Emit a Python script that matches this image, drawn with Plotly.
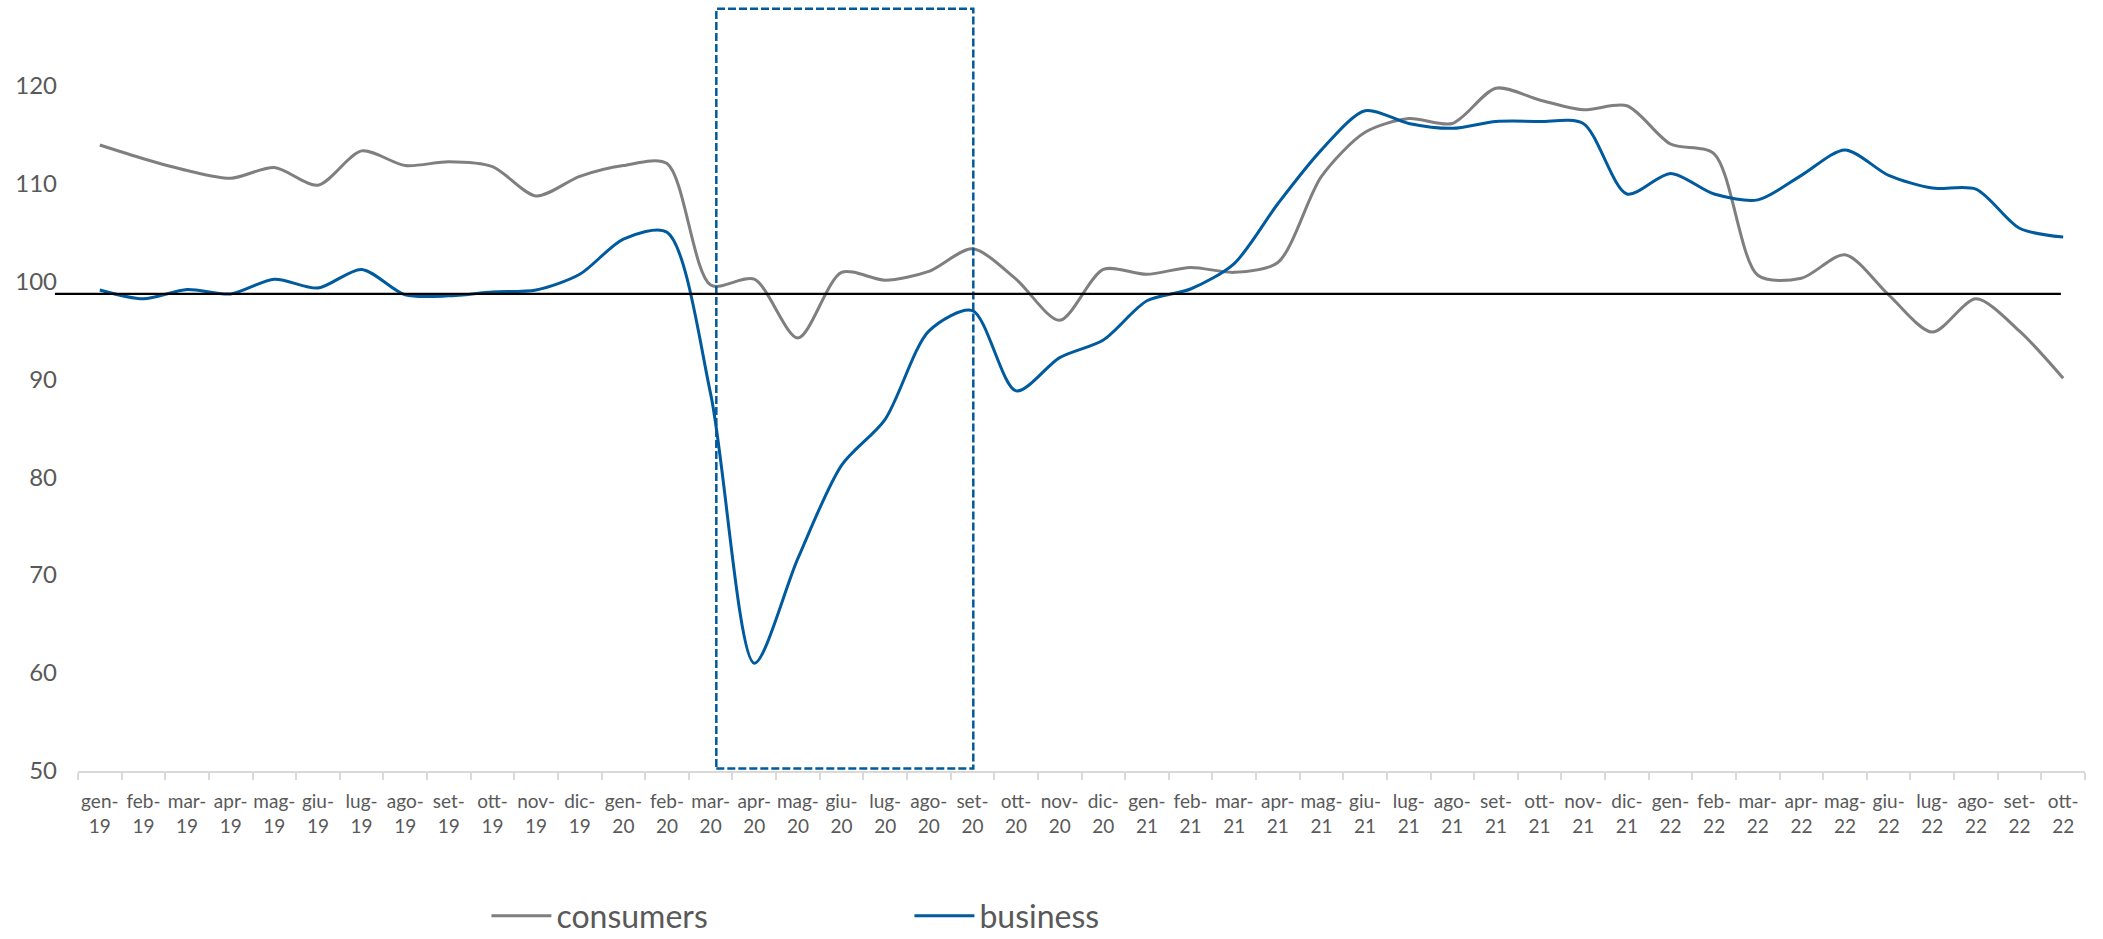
import plotly.graph_objects as go

months = ["gen", "feb", "mar", "apr", "mag", "giu", "lug", "ago", "set", "ott", "nov", "dic"]
categories = []
for yr in ["19", "20", "21", "22"]:
    for m in months:
        categories.append(f"{m}-<br>{yr}")
categories = categories[:46]  # gen-19 ... ott-22

consumers = [113.9, 112.5, 111.3, 110.5, 111.6, 109.8, 113.3, 111.8, 112.2, 111.7,
             108.7, 110.7, 111.8, 112.0, 99.6, 100.2, 94.2, 100.9, 100.1, 101.0,
             103.3, 100.2, 96.0, 101.2, 100.7, 101.4, 100.9, 101.9, 110.7, 115.2,
             116.6, 116.1, 119.7, 118.5, 117.5, 117.9, 114.0, 113.0, 100.6, 100.3,
             102.7, 98.6, 94.8, 98.2, 94.9, 90.1]

business = [99.1, 98.2, 99.15, 98.7, 100.2, 99.3, 101.2, 98.6, 98.5, 98.9,
            99.1, 100.7, 104.3, 105.0, 88.5, 61.0, 71.7, 81.2, 85.9, 94.9,
            97.0, 88.8, 92.2, 94.0, 98.0, 99.2, 101.8, 107.9, 113.4, 117.4,
            116.1, 115.6, 116.3, 116.3, 116.1, 108.9, 111.0, 108.9, 108.3, 110.8,
            113.4, 110.8, 109.5, 109.4, 105.4, 104.5]

y_ticks = [50, 60, 70, 80, 90, 100, 110, 120]
reference_level = 98.7
highlight_start, highlight_end = "mar-<br>20", "set-<br>20"

FONT = "Lato, 'Liberation Sans', Arial, sans-serif"
TXT = "#595959"
GRAY = "#7F7F7F"
BLUE = "#005A9E"

fig = go.Figure()
fig.add_trace(go.Scatter(x=categories, y=consumers, name="consumers", mode="lines",
                         line=dict(color=GRAY, width=3, shape="spline", smoothing=0.8)))
fig.add_trace(go.Scatter(x=categories, y=business, name="business", mode="lines",
                         line=dict(color=BLUE, width=3, shape="spline", smoothing=0.8)))

i0 = categories.index(highlight_start)
i1 = categories.index(highlight_end)
fig.add_shape(type="rect", xref="x", yref="y", x0=i0 + 0.13, x1=i1 + 0.02, y0=50.25, y1=127.8,
              line=dict(color=BLUE, width=2.5, dash="8px,3px"), fillcolor="rgba(0,0,0,0)", layer="above")
fig.add_shape(type="line", xref="paper", yref="y", x0=-0.0115, x1=0.988,
              y0=reference_level, y1=reference_level, line=dict(color="black", width=2.2), layer="above")

fig.update_layout(
    width=2103, height=939,
    margin=dict(l=78, r=18, t=0, b=168, pad=0, autoexpand=False),
    paper_bgcolor="white", plot_bgcolor="white",
    font=dict(family=FONT, color=TXT),
    showlegend=True,
    legend=dict(orientation="h", x=0.2035, xanchor="left", y=-0.188, yanchor="middle",
                font=dict(family=FONT, size=32, color=TXT), itemwidth=60,
                entrywidth=348, entrywidthmode="pixels", bgcolor="rgba(0,0,0,0)",
                traceorder="normal"),
    xaxis=dict(type="category", categoryorder="array", categoryarray=categories,
               range=[-0.5, len(categories) - 0.5], automargin=False,
               tickson="boundaries", ticks="outside", ticklen=7, tickwidth=1.5, tickcolor="#D9D9D9",
               showline=True, linecolor="#D9D9D9", linewidth=2, showgrid=False, zeroline=False,
               tickfont=dict(family=FONT, size=19, color=TXT), tickangle=0, ticklabelstandoff=12),
    yaxis=dict(range=[50, 128.7], tickvals=y_ticks, ticks="", showgrid=False, zeroline=False,
               showline=False, automargin=False,
               tickfont=dict(family=FONT, size=24, color=TXT), ticklabelstandoff=20),
)

fig.write_html("out.html")
